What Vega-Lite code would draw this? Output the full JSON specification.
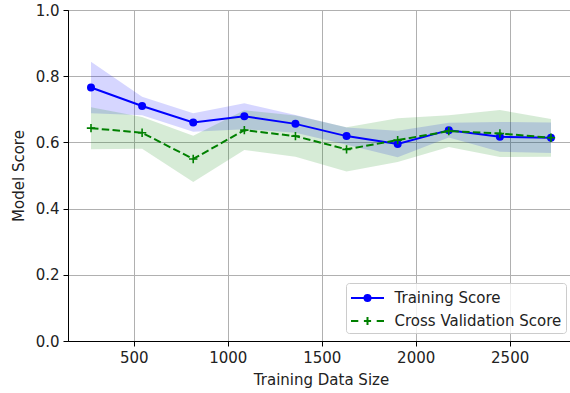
{
  "$schema": "https://vega.github.io/schema/vega-lite/v6.json",
  "autosize": {"type": "none"},
  "padding": {"left": 68, "top": 10, "right": 0, "bottom": 52},
  "width": 506,
  "height": 331,
  "background": "white",
  "config": {
    "font": "DejaVu Sans",
    "view": {"stroke": "black", "strokeWidth": 1},
    "axis": {
      "labelFont": "DejaVu Sans",
      "labelFontSize": 15,
      "labelColor": "#222",
      "titleFont": "DejaVu Sans",
      "titleFontSize": 15,
      "titleFontWeight": "normal",
      "titleColor": "#222",
      "domainColor": "black",
      "domainWidth": 1,
      "tickColor": "black",
      "tickWidth": 1,
      "tickSize": 5,
      "labelPadding": 4,
      "gridColor": "#b0b0b0",
      "gridWidth": 1,
      "gridOpacity": 1
    },
    "legend": {
      "labelFont": "DejaVu Sans",
      "labelFontSize": 15,
      "labelColor": "#222"
    }
  },
  "datasets": {
    "scores": [
      {"size": 272, "train": 0.766, "train_lo": 0.688, "train_hi": 0.844, "cv": 0.643, "cv_lo": 0.579, "cv_hi": 0.706},
      {"size": 544, "train": 0.710, "train_lo": 0.682, "train_hi": 0.738, "cv": 0.629, "cv_lo": 0.581, "cv_hi": 0.677},
      {"size": 816, "train": 0.660, "train_lo": 0.632, "train_hi": 0.688, "cv": 0.550, "cv_lo": 0.480, "cv_hi": 0.620},
      {"size": 1088, "train": 0.679, "train_lo": 0.640, "train_hi": 0.718, "cv": 0.637, "cv_lo": 0.577, "cv_hi": 0.697},
      {"size": 1360, "train": 0.656, "train_lo": 0.629, "train_hi": 0.683, "cv": 0.619, "cv_lo": 0.557, "cv_hi": 0.681},
      {"size": 1632, "train": 0.619, "train_lo": 0.593, "train_hi": 0.645, "cv": 0.579, "cv_lo": 0.512, "cv_hi": 0.646},
      {"size": 1904, "train": 0.595, "train_lo": 0.555, "train_hi": 0.635, "cv": 0.607, "cv_lo": 0.541, "cv_hi": 0.673},
      {"size": 2176, "train": 0.637, "train_lo": 0.615, "train_hi": 0.659, "cv": 0.634, "cv_lo": 0.586, "cv_hi": 0.682},
      {"size": 2448, "train": 0.617, "train_lo": 0.572, "train_hi": 0.662, "cv": 0.627, "cv_lo": 0.556, "cv_hi": 0.698},
      {"size": 2720, "train": 0.614, "train_lo": 0.568, "train_hi": 0.660, "cv": 0.614, "cv_lo": 0.557, "cv_hi": 0.671}
    ],
    "series": [
      {"series": "Training Score"},
      {"series": "Cross Validation Score"}
    ]
  },
  "data": {"name": "scores"},
  "encoding": {
    "x": {
      "field": "size",
      "type": "quantitative",
      "title": "Training Data Size",
      "scale": {"domain": [149.6, 2842.4], "nice": false, "zero": false},
      "axis": {"values": [500, 1000, 1500, 2000, 2500], "format": "d", "titlePadding": 7, "grid": true}
    }
  },
  "layer": [
    {
      "mark": {"type": "area", "color": "#0000ff", "opacity": 0.16},
      "encoding": {
        "y": {
          "field": "train_lo",
          "type": "quantitative",
          "title": "Model Score",
          "scale": {"domain": [0, 1], "nice": false},
          "axis": {"values": [0, 0.2, 0.4, 0.6, 0.8, 1.0], "format": ".1f", "titlePadding": 9, "grid": true}
        },
        "y2": {"field": "train_hi"}
      }
    },
    {
      "mark": {"type": "area", "color": "#008000", "opacity": 0.16},
      "encoding": {
        "y": {"field": "cv_lo", "type": "quantitative"},
        "y2": {"field": "cv_hi"}
      }
    },
    {
      "mark": {"type": "line", "color": "#0000ff", "strokeWidth": 2},
      "encoding": {"y": {"field": "train", "type": "quantitative"}}
    },
    {
      "mark": {"type": "point", "shape": "circle", "filled": true, "color": "#0000ff", "opacity": 1, "size": 64},
      "encoding": {"y": {"field": "train", "type": "quantitative"}}
    },
    {
      "mark": {"type": "line", "color": "#008000", "strokeWidth": 2, "strokeDash": [7.5, 3.3]},
      "encoding": {"y": {"field": "cv", "type": "quantitative"}}
    },
    {
      "mark": {"type": "point", "shape": "M-1,0H1M0,-1V1", "filled": false, "color": "#008000", "opacity": 1, "size": 70, "strokeWidth": 1.6},
      "encoding": {"y": {"field": "cv", "type": "quantitative"}}
    },
    {
      "data": {"name": "series"},
      "transform": [{"filter": "datum.series == 'none'"}],
      "mark": {"type": "point", "filled": false, "strokeWidth": 2, "opacity": 1},
      "encoding": {
        "x": {"value": 0},
        "y": {"value": 0},
        "color": {
          "field": "series",
          "type": "nominal",
          "scale": {"domain": ["Training Score", "Cross Validation Score"], "range": ["#0000ff", "#008000"]},
          "legend": {
            "title": null,
            "orient": "none",
            "legendX": 278,
            "legendY": 273,
            "padding": 4,
            "strokeColor": "#cccccc",
            "fillColor": "rgba(255,255,255,0.8)",
            "cornerRadius": 3,
            "symbolType": {"expr": "datum.value == 'Training Score' ? 'M-1.65,0H1.65M-0.3,0A0.3,0.3 0 1,1 0.3,0A0.3,0.3 0 1,1 -0.3,0ZM-0.12,0A0.12,0.12 0 1,1 0.12,0A0.12,0.12 0 1,1 -0.12,0Z' : 'M-1.65,0H-0.92M-0.36,0H0.36M0.92,0H1.65M0,-0.4V0.4'"},
            "symbolSize": 400,
            "symbolStrokeWidth": 2,
            "symbolOpacity": 1,
            "symbolOffset": 6.5,
            "labelOffset": 16,
            "labelLimit": 300,
            "rowPadding": 4
          }
        }
      }
    }
  ]
}
